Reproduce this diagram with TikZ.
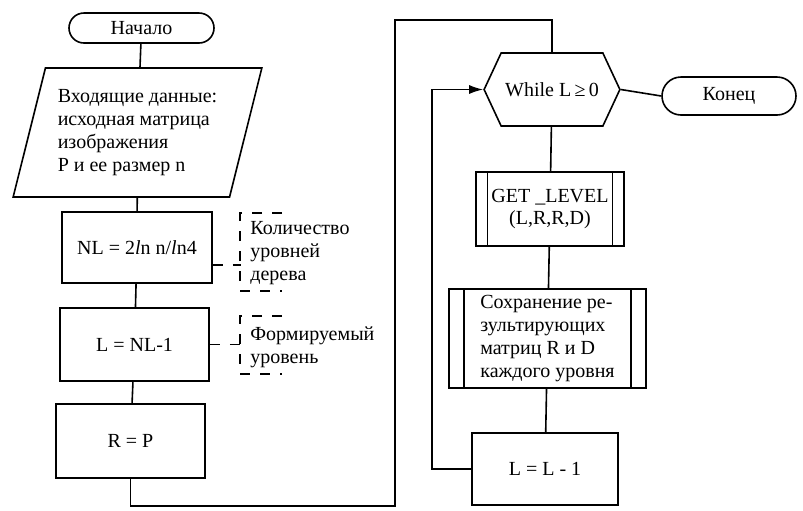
\documentclass[tikz,border=0pt]{standalone}
\usepackage{fontspec}
\setmainfont{Liberation Serif}
\usetikzlibrary{positioning, arrows.meta, shapes.geometric, shapes.misc, shapes.symbols}

\begin{document}
\begin{tikzpicture}[
    x=0.5pt, y=-0.5pt,
    font=\fontsize{10}{11.4}\selectfont,
    % Node styles
    terminal/.style={
        rounded rectangle,
        draw,
        line width=0.8pt,
        minimum height=#1,
        inner sep=2pt
    },
    terminal/.default=15pt,
    io/.style={
        trapezium,
        trapezium left angle=73,
        trapezium right angle=107,
        trapezium stretches=true,
        draw,
        line width=0.8pt,
        minimum width=124.5pt,
        minimum height=64.5pt,
        align=left
    },
    process/.style={
        rectangle,
        draw,
        line width=0.8pt,
        minimum width=74.5pt,
        minimum height=36.5pt,
        align=center
    },
    subproc/.style={
        process,
        path picture={
            \draw[line width=0.8pt] ([xshift=#1]path picture bounding box.north west) -- ([xshift=#1]path picture bounding box.south west);
            \draw[line width=0.8pt] ([xshift=-#1]path picture bounding box.north east) -- ([xshift=-#1]path picture bounding box.south east);
        }
    },
    subproc/.default=6pt,
    loophead/.style={
        signal,
        signal to=west and east,
        signal pointer angle=130,
        draw,
        line width=0.8pt,
        inner xsep=2pt,
        minimum width=67pt,
        minimum height=36.5pt
    },
    note/.style={
        anchor=west,
        align=left,
        inner sep=1pt
    },
    line/.style={
        line width=0.8pt
    },
    flow/.style={
        -{Latex[length=7pt, width=4.5pt]},
        line width=0.8pt
    },
    dashline/.style={
        line width=0.8pt,
        dash pattern=on 5pt off 5pt
    }
]
\useasboundingbox (0,0) rectangle (803,510);

% Left column
\node[terminal, minimum width=76.5pt] (start) at (141.5,28) {Начало};

\node[io] (input) at (137.5,132.5) {
    Входящие данные:\\
    исходная матрица\\
    изображения\\
    P и ее размер n
};

\node[process, minimum width=75pt, minimum height=35.5pt] (nl) at (137,247.5) {NL = 2\textit{l}n n/\textit{l}n4};
\node[process] (lev) at (134.5,344.5) {L = NL-1};
\node[process, minimum height=37pt] (rp) at (130.5,441) {R = P};

% Comments
\node[note] (cnt) at (248,253) {Количество\\уровней\\дерева};
\node[note] (frm) at (248,347) {Формируемый\\уровень};

% Right column
\node[loophead] (while) at (552,89.5) {While L\,≥\,0};
\node[terminal=19pt, minimum width=71pt] (stop) at (729,96) {Конец};

\node[subproc=5.75pt, minimum width=74pt, minimum height=37pt] (get) at (550,209) {GET \_LEVEL\\(L,R,R,D)};
\node[subproc=7.5pt, minimum width=98.5pt, minimum height=48.5pt, align=left] (save) at (547.5,338.5) {
    Сохранение ре-\\
    зультирующих\\
    матриц R и D\\
    каждого уровня
};
\node[process, minimum width=73pt, minimum height=36pt] (dec) at (545,469) {L = L - 1};

% Connectors
\draw[line] (start) -- (input);
\draw[line] (input) -- (nl);
\draw[line] (nl) -- (lev);
\draw[line] (lev) -- (rp);

\coordinate (jump) at (395,20);
\draw[line] (rp.south) -- ++(0,27) -| (jump) -| (while.north);

\draw[line] (while.east) -- (stop.west);
\draw[line] (while) -- (get);
\draw[line] (get) -- (save);
\draw[line] (save) -- (dec);
\draw[flow] (dec.west) -- ++(-39,0) |- (while.west);

% Comment brackets
\draw[dashline] ([yshift=-8.75pt]nl.east) -- ++(28,0);
\draw[dashline] ([xshift=17pt, yshift=3pt]cnt.north west) -| ([xshift=-4pt, yshift=-2pt]cnt.south west) -- ++(42,0);

\draw[dashline] (lev.east) -- ++(31,0);
\draw[dashline] ([xshift=17pt, yshift=4pt]frm.north west) -| ([xshift=-4pt, yshift=-2pt]frm.south west) -- ++(42,0);

\end{tikzpicture}
\end{document}
